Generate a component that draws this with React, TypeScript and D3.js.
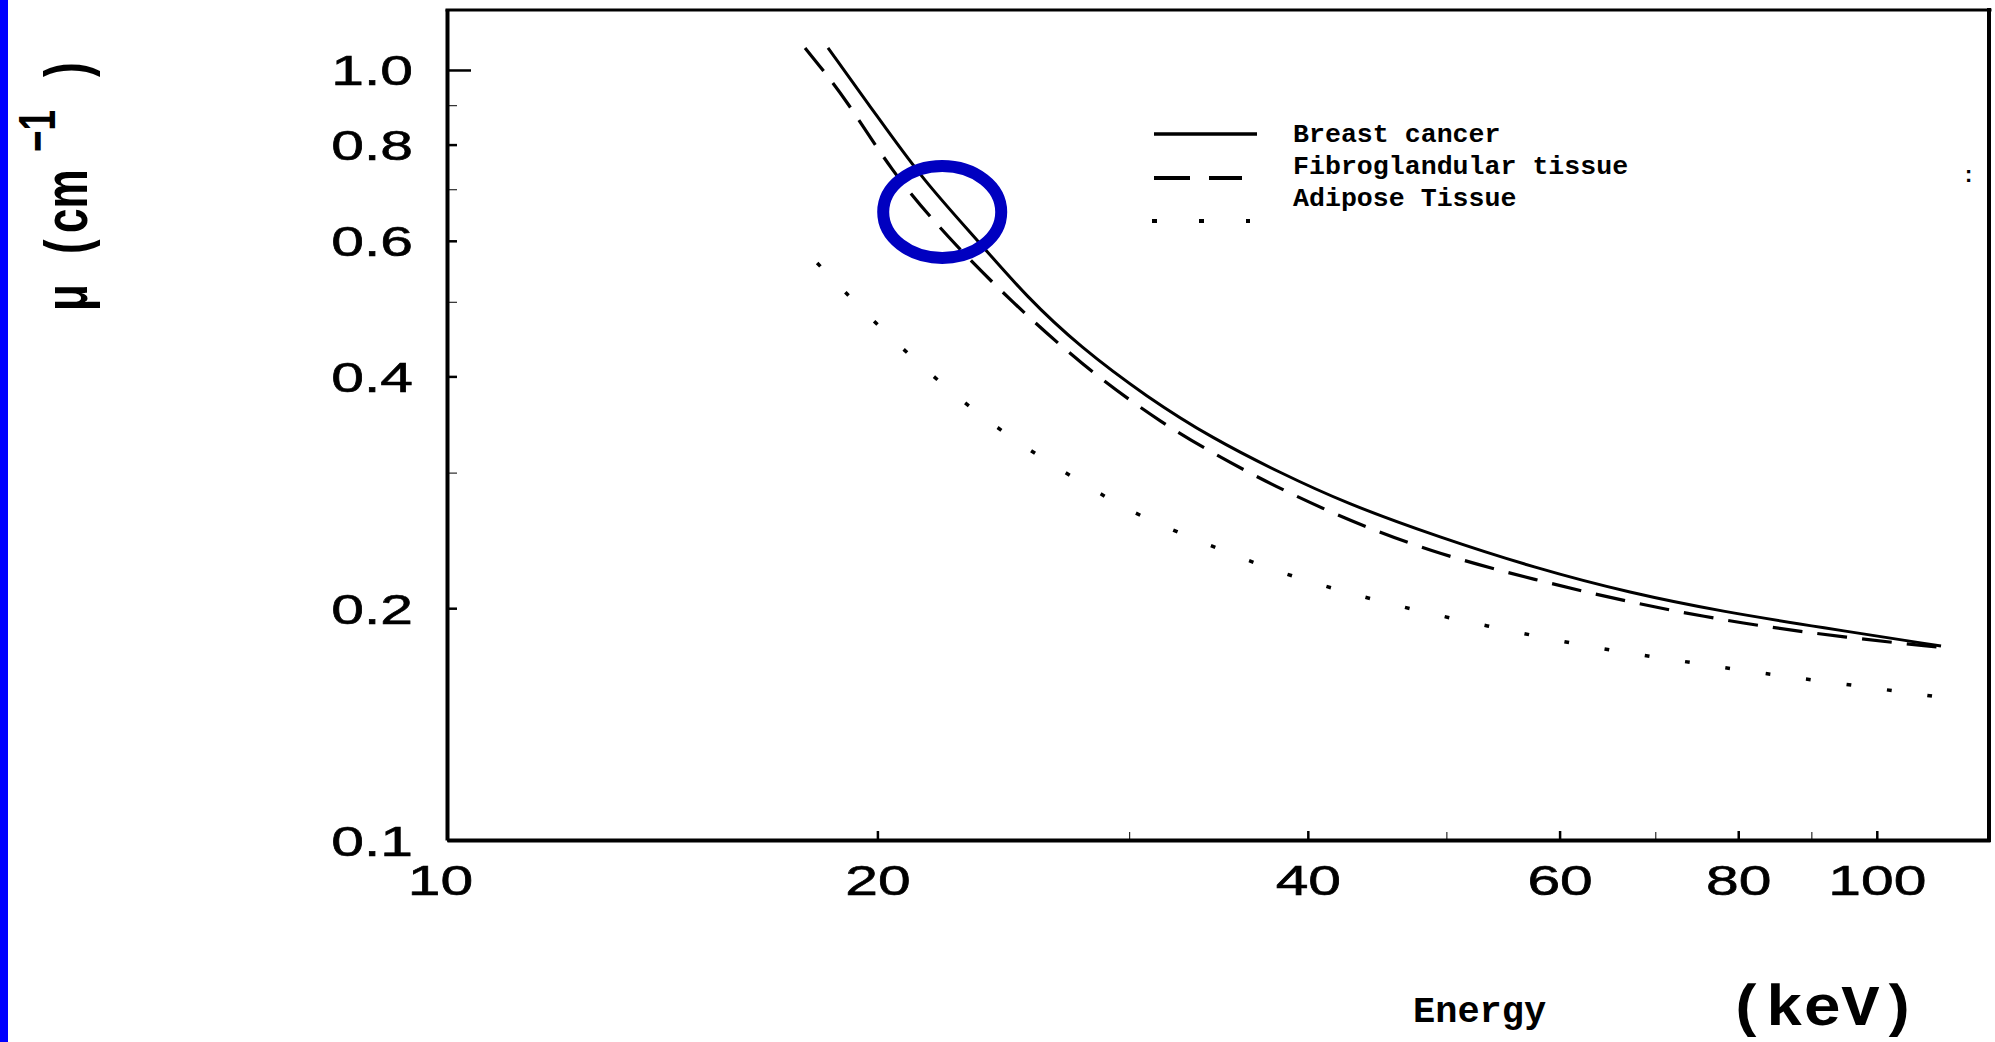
import * as d3 from 'd3';
import React, { useRef, useEffect } from 'react';

const WIDTH = 1995;
const HEIGHT = 1042;

// energies in keV, attenuation coefficient mu in cm^-1
const breastCancerEnergy = [18.47, 20.08, 21.52, 23.59, 25.44, 27.71, 30.87, 34.33, 38.24, 42.46, 49.5, 57.7, 67.2, 78.3, 91.2, 110.9];
const breastCancerMu = [1.068, 0.861, 0.72, 0.596, 0.507, 0.437, 0.376, 0.332, 0.3, 0.274, 0.247, 0.2255, 0.2093, 0.1977, 0.189, 0.1786];

const fibroEnergy = [17.8, 19.05, 20.41, 22.37, 24.88, 27.71, 31.52, 36.26, 41.78, 48.7, 57.7, 67.96, 80.7, 95.6, 110.5];
const fibroMu = [1.068, 0.914, 0.742, 0.607, 0.498, 0.416, 0.348, 0.3, 0.2643, 0.2366, 0.2176, 0.2025, 0.1908, 0.183, 0.178];

const adiposeEnergy = [18.15, 19.7, 21.49, 23.59, 26.15, 29.18, 30.92, 37.15, 42.12, 48.07, 55.04, 63.0, 72.2, 82.7, 95.0, 109.3];
const adiposeMu = [0.5615, 0.479, 0.4114, 0.3553, 0.3115, 0.2756, 0.2603, 0.2262, 0.2106, 0.1977, 0.1874, 0.178, 0.1713, 0.1648, 0.1594, 0.1538];

const xTickValues = [10, 20, 40, 60, 80, 100];
const xMinorTicks = [30, 50, 70, 90];
const yTickValues = [0.1, 0.2, 0.4, 0.6, 0.8, 1.0];
const yTickLabels = ['0.1', '0.2', '0.4', '0.6', '0.8', '1.0'];
const yMinorTicks = [0.3, 0.5, 0.7, 0.9];

const legendLabels = ['Breast cancer', 'Fibroglandular tissue', 'Adipose Tissue'];

// highlighted crossing (energy keV, mu)
const circleAt = [22.2, 0.654];

const MONO = '"Liberation Mono", "Courier New", monospace';
const SANS = '"Liberation Sans", Arial, Helvetica, sans-serif';

function MuChart() {
  const ref = useRef<SVGGElement>(null);

  const x = d3.scaleLog().domain([10, 120]).range([447, 1990]);
  const y = d3.scaleLog().domain([0.1, 1.2]).range([840, 9]);

  const line = d3.line<[number, number]>()
    .x(d => x(d[0]))
    .y(d => y(d[1]))
    .curve(d3.curveBasis);

  const zip = (a: number[], b: number[]) => a.map((v, i) => [v, b[i]] as [number, number]);

  useEffect(() => {
    const g = d3.select(ref.current);
    g.selectAll('*').remove();

    // minor ticks
    g.append('g')
      .attr('transform', 'translate(0,840)')
      .call(d3.axisBottom(x).tickValues(xMinorTicks).tickSizeInner(-8).tickSizeOuter(0).tickFormat(() => ''))
      .call(a => a.select('.domain').remove());
    g.append('g')
      .attr('transform', 'translate(447,0)')
      .call(d3.axisLeft(y).tickValues(yMinorTicks).tickSizeInner(-10).tickSizeOuter(0).tickFormat(() => ''))
      .call(a => a.select('.domain').remove());

    // x axis
    const xa = g.append('g')
      .attr('transform', 'translate(0,840)')
      .call(d3.axisBottom(x).tickValues(xTickValues).tickSizeInner(-9).tickSizeOuter(0).tickFormat(d3.format('d')));
    xa.select('.domain').attr('stroke-width', 4).attr('stroke', '#000');
    xa.selectAll('.tick line').attr('stroke-width', 2.5);
    xa.selectAll('.tick text')
      .attr('x', (d: any) => (d === 10 ? -7 / 1.4 : 0))
      .attr('y', 55).attr('dy', null)
      .attr('transform', 'scale(1.4,1)')
      .attr('font-family', SANS).attr('font-size', 42)
      .attr('fill', '#000').attr('stroke', '#000').attr('stroke-width', 0.6);

    // y axis
    const ya = g.append('g')
      .attr('transform', 'translate(447,0)')
      .call(d3.axisLeft(y).tickValues(yTickValues).tickSizeInner(-10).tickSizeOuter(0)
        .tickFormat((d, i) => yTickLabels[i]));
    ya.select('.domain').attr('stroke-width', 4).attr('stroke', '#000');
    ya.selectAll('.tick line').attr('stroke-width', 2.5)
      .attr('x2', (d: any) => (d === 1.0 ? 24 : 10));
    ya.selectAll('.tick text')
      .attr('x', -34 / 1.4).attr('y', 15).attr('dy', null)
      .attr('transform', 'scale(1.4,1)')
      .attr('font-family', SANS).attr('font-size', 42)
      .attr('fill', '#000').attr('stroke', '#000').attr('stroke-width', 0.6);
  }, []);

  const [x0, x1] = x.range();
  const [y0, y1] = y.range();

  return (
    <svg width={WIDTH} height={HEIGHT} style={{ display: 'block', background: '#fff' }}>
      <rect x={0} y={0} width={WIDTH} height={HEIGHT} fill="#fff" />
      <rect x={0} y={0} width={8} height={HEIGHT} fill="#0000ff" />

      {/* frame: top and right */}
      <line x1={x0} x2={x1} y1={y1 + 1} y2={y1 + 1} stroke="#000" strokeWidth={3} strokeLinecap="square" />
      <line x1={x1 - 1} x2={x1 - 1} y1={y1 + 1} y2={y0} stroke="#000" strokeWidth={4} strokeLinecap="square" />

      <g ref={ref} />

      {/* curves */}
      <path d={line(zip(breastCancerEnergy, breastCancerMu)) || ''} fill="none" stroke="#000" strokeWidth={3} />
      <path d={line(zip(fibroEnergy, fibroMu)) || ''} fill="none" stroke="#000" strokeWidth={3.2}
        strokeDasharray="30 15" />
      <path d={line(zip(adiposeEnergy, adiposeMu)) || ''} fill="none" stroke="#000" strokeWidth={3.5}
        pathLength={1295} strokeDasharray="5 38" />

      {/* legend */}
      <line x1={1154} x2={1257} y1={134} y2={134} stroke="#000" strokeWidth={3.5} />
      <line x1={1154} x2={1242} y1={178} y2={178} stroke="#000" strokeWidth={4} strokeDasharray="36 19" />
      <line x1={1152} x2={1250} y1={221} y2={221} stroke="#000" strokeWidth={4} strokeDasharray="5 42" />
      {legendLabels.map((t, i) => (
        <text key={t} x={1293} y={142 + i * 32} fontFamily={MONO} fontWeight="bold" fontSize={26.6} fill="#000">{t}</text>
      ))}
      <text x={1962} y={182} fontFamily={MONO} fontWeight="bold" fontSize={22} fill="#000">:</text>

      {/* highlight */}
      <ellipse cx={x(circleAt[0])} cy={y(circleAt[1])} rx={59} ry={46} fill="none" stroke="#0000c0" strokeWidth={12} />

      {/* y axis title */}
      <g fontFamily={SANS} fontWeight="bold" fill="#000">
        <text transform="translate(87,311) scale(1.4,1) rotate(-90)" fontSize={44}>μ</text>
        <text transform="translate(87,254) scale(1.4,1) rotate(-90)" fontSize={44}>(</text>
        <text transform="translate(87,233) scale(1.4,1) rotate(-90)" fontSize={44}>cm</text>
        <text transform="translate(55,152) scale(1.4,1) rotate(-90)" fontSize={37}>−1</text>
        <text transform="translate(87,77) scale(1.4,1) rotate(-90)" fontSize={44}>)</text>
      </g>

      {/* x axis title */}
      <text x={1413} y={1022} fontFamily={MONO} fontWeight="bold" fontSize={37} fill="#000">Energy</text>
      <text x={1728} y={1025} fontFamily={MONO} fontWeight="bold" fontSize={58} fill="#000"
        textLength={189} lengthAdjust="spacingAndGlyphs">(keV)</text>
    </svg>
  );
}

export default function App() {
  return (
    <div style={{ position: 'absolute', left: 0, top: 0 }}>
      <MuChart />
    </div>
  );
}
